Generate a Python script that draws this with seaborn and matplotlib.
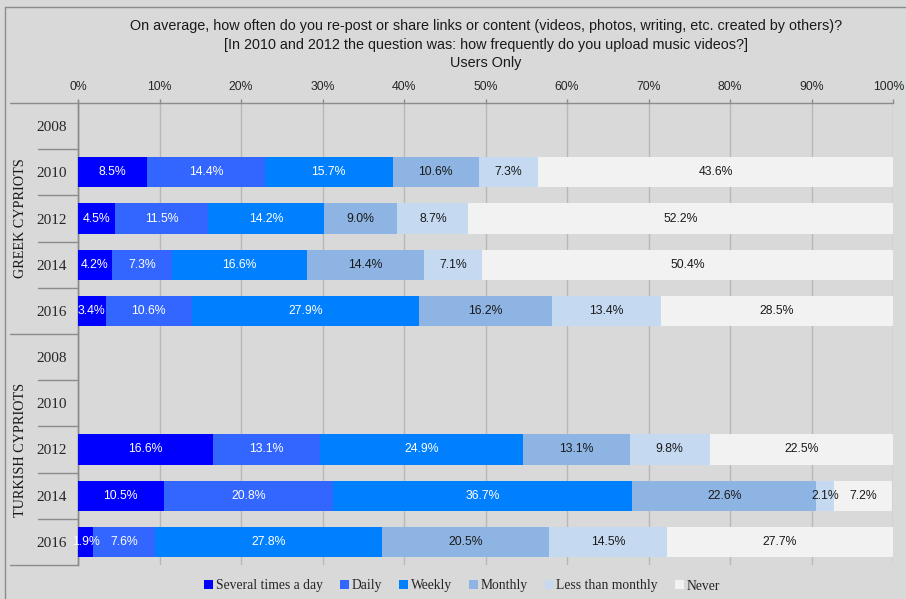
import numpy as np
import pandas as pd
import matplotlib
matplotlib.use("Agg")
import matplotlib.pyplot as plt
from matplotlib import transforms
from matplotlib.lines import Line2D
from matplotlib.patches import Patch
import seaborn as sns

# ---- data -------------------------------------------------------------
groups = ["GREEK CYPRIOTS", "TURKISH CYPRIOTS"]
years = ["2008", "2010", "2012", "2014", "2016"]
series = ["Several times a day", "Daily", "Weekly", "Monthly",
          "Less than monthly", "Never"]

# percentages per survey year (2008 and TC 2010: not asked)
gc_2010 = [8.5, 14.4, 15.7, 10.6, 7.3, 43.6]
gc_2012 = [4.5, 11.5, 14.2, 9.0, 8.7, 52.2]
gc_2014 = [4.2, 7.3, 16.6, 14.4, 7.1, 50.4]
gc_2016 = [3.4, 10.6, 27.9, 16.2, 13.4, 28.5]
tc_2012 = [16.6, 13.1, 24.9, 13.1, 9.8, 22.5]
tc_2014 = [10.5, 20.8, 36.7, 22.6, 2.1, 7.2]
tc_2016 = [1.9, 7.6, 27.8, 20.5, 14.5, 27.7]

colors = ["#0000FF", "#3366FF", "#0080FF", "#8DB4E2", "#C5D9F1", "#F2F2F2"]
text_colors = ["white", "white", "white", "#1a1a1a", "#1a1a1a", "#1a1a1a"]

answers = {
    ("GREEK CYPRIOTS", "2010"): gc_2010,
    ("GREEK CYPRIOTS", "2012"): gc_2012,
    ("GREEK CYPRIOTS", "2014"): gc_2014,
    ("GREEK CYPRIOTS", "2016"): gc_2016,
    ("TURKISH CYPRIOTS", "2012"): tc_2012,
    ("TURKISH CYPRIOTS", "2014"): tc_2014,
    ("TURKISH CYPRIOTS", "2016"): tc_2016,
}

row_order = [f"{g}|{y}" for g in groups for y in years]

records = []
for (g, y), vals in answers.items():
    cum = np.cumsum(vals)
    for s, v, end in zip(series, vals, cum):
        records.append(dict(row=f"{g}|{y}", series=s, value=v,
                            start=end - v, end=end))
df = pd.DataFrame(records)

# ---- style ------------------------------------------------------------
sns.set_theme(style="white")
BG = "#d9d9d9"
GRID = "#b8b8b8"
LINE = "#8c8c8c"
sans = ["Liberation Sans", "DejaVu Sans"]
serif = ["Liberation Serif", "DejaVu Serif"]

W, H = 906, 599
fig = plt.figure(figsize=(W / 100, H / 100), dpi=100, facecolor=BG)
ax = fig.add_axes([78 / W, 1 - 565 / H, (893 - 78) / W, (565 - 103) / H])
ax.set_facecolor(BG)

# stacked bars: draw cumulative totals back-to-front
for i in reversed(range(len(series))):
    sub = df[df["series"] == series[i]]
    sns.barplot(data=sub, x="end", y="row", order=row_order, orient="h",
                color=colors[i], saturation=1, width=0.65, errorbar=None,
                linewidth=0, ax=ax, zorder=3)

# value labels
row_pos = {r: k for k, r in enumerate(row_order)}
for _, rec in df.iterrows():
    k = series.index(rec["series"])
    ax.text(rec["start"] + rec["value"] / 2, row_pos[rec["row"]],
            f"{rec['value']:.1f}%", ha="center", va="center",
            fontsize=8.8, color=text_colors[k], family=sans, zorder=5)

ax.set_xlim(0, 100)
ax.set_ylim(len(row_order) - 0.5, -0.5)
ax.set_xticks(np.arange(0, 101, 10))
ax.set_xticklabels([f"{v}%" for v in range(0, 101, 10)],
                   family=sans, fontsize=8.8)
ax.xaxis.tick_top()
ax.tick_params(axis="x", direction="out", length=3, width=1,
               color=LINE, pad=4, top=True, bottom=False)
# keep the right-most percentage inside the canvas
last = ax.get_xticklabels()[-1]
last.set_transform(last.get_transform() +
                   transforms.ScaledTranslation(-4 / 100, 0, fig.dpi_scale_trans))
ax.set_yticks(range(len(row_order)))
ax.set_yticklabels([r.split("|")[1] for r in row_order],
                   family=serif, fontsize=11)
ax.tick_params(axis="y", length=0, pad=8)
ax.set_xlabel("")
ax.set_ylabel("")
ax.grid(axis="x", color=GRID, linewidth=1, zorder=0)
ax.set_axisbelow(True)
for side in ["right", "bottom"]:
    ax.spines[side].set_visible(False)
for side in ["left", "top"]:
    ax.spines[side].set_color(LINE)
    ax.spines[side].set_linewidth(1)

# separators in the label column
tr = transforms.blended_transform_factory(ax.transAxes, ax.transData)
x_short = -(78 - 38) / (893 - 78)
x_long = -(78 - 10) / (893 - 78)
for b in np.arange(0.5, len(row_order) - 0.5, 1.0):
    x0 = x_long if b == len(years) - 0.5 else x_short
    ax.plot([x0, 0], [b, b], transform=tr, color=LINE, lw=1, clip_on=False)
for b in [-0.5, len(row_order) - 0.5]:
    ax.plot([x_long, 0], [b, b], transform=tr, color=LINE, lw=1,
            clip_on=False)
ax.plot([0, 0], [-0.57, len(row_order) - 0.5], transform=tr, color=LINE,
        lw=1, clip_on=False)

# group names
for gi, g in enumerate(groups):
    yc = gi * len(years) + (len(years) - 1) / 2
    ax.text(x_long + 0.013, yc, g, transform=tr, rotation=90,
            ha="center", va="center", family=serif, fontsize=10.2,
            color="#1a1a1a")

# title
title_lines = [
    "On average, how often do you re-post or share links or content "
    "(videos, photos, writing, etc. created by others)?",
    "[In 2010 and 2012 the question was: how frequently do you upload "
    "music videos?]",
    "Users Only",
]
for txt, ypx in zip(title_lines, [26, 45, 63]):
    fig.text(486 / W, 1 - ypx / H, txt, ha="center", va="center",
             family=sans, fontsize=10.4, color="#1a1a1a")

# legend
handles = [Patch(facecolor=c, edgecolor="none") for c in colors]
fig.legend(handles, series, loc="center", bbox_to_anchor=(462 / W, 1 - 586 / H),
           ncol=6, frameon=False, prop={"family": serif, "size": 9.8},
           handlelength=0.65, handleheight=0.65, handletextpad=0.2,
           columnspacing=1.25, borderpad=0)

# outer frame
fig.add_artist(Line2D([5 / W, 1], [1 - 7 / H, 1 - 7 / H],
                      transform=fig.transFigure, color=LINE, lw=1))
fig.add_artist(Line2D([5 / W, 5 / W], [0, 1 - 7 / H],
                      transform=fig.transFigure, color=LINE, lw=1))

fig.savefig("out.png", dpi=100, facecolor=BG)
